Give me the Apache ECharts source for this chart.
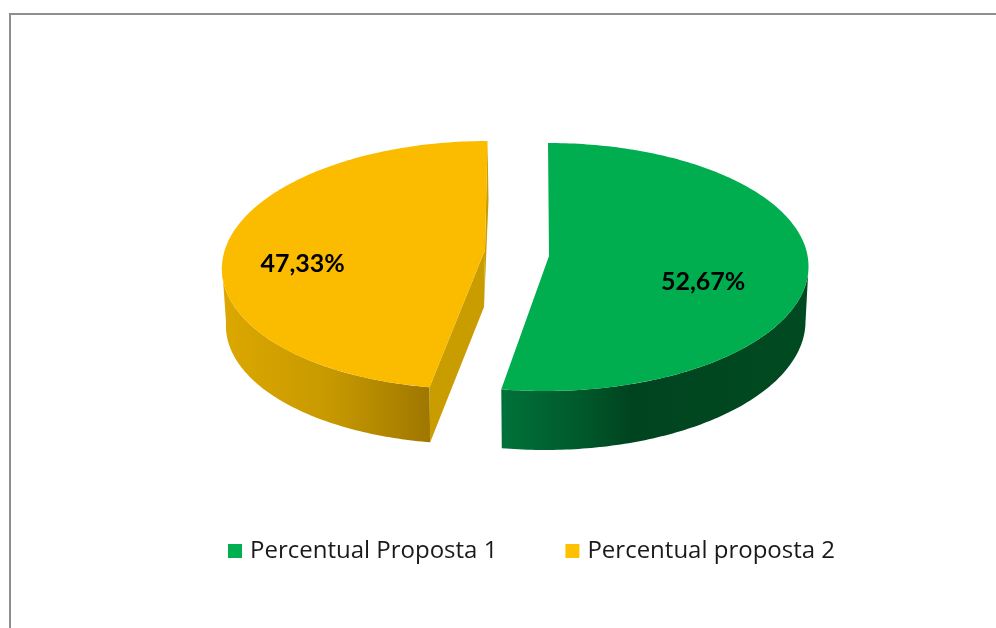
<!DOCTYPE html>
<html>
<head>
<meta charset="utf-8">
<style>html,body{margin:0;padding:0;background:#fff}#chart{width:996px;height:628px}</style>
<script src="https://cdn.jsdelivr.net/npm/echarts@6/dist/echarts.min.js"></script>
</head>
<body>
<div id="chart"></div>
<script>
// Shares of the two proposals, in percent
const categories = ['Percentual Proposta 1', 'Percentual proposta 2'];
const shares = [52.67, 47.33];
const topColors = ['#00AE50', '#FBBC00'];
const legendColors = ['#00B050', '#FFC000'];

// Tilted-disc geometry of each exploded slice
const discs = [
  { cx: 546.5, cy: 267, a: 262, b: 124, skew: 1.5, apexX: 549, apexLift: 11, cy2: 322, a2: 259, b2: 128, labelR: 0.6, labelDy: 9 },
  { cx: 480, cy: 265, a: 258, b: 124, skew: 7.5, apexX: 485, apexLift: 15, cy2: 322, a2: 254, b2: 122, labelR: 0.69, labelDy: 6 }
];
const sideStops = [
  [[0, '#00713A'], [0.25, '#005A2B'], [0.42, '#00441F'], [1, '#004A21']],
  [[0, '#DCA800'], [0.5, '#C89A00'], [1, '#9F7700']]
];
const wallColor = '#C99C00';

const total = shares.reduce((s, v) => s + v, 0);
const startAngles = shares.map((_, i) =>
  shares.slice(0, i).reduce((s, v) => s + v, 0) / total * Math.PI * 2);

function topPoint(d, t) {
  return [d.cx + d.a * Math.sin(t) + d.skew * Math.cos(t), d.cy - d.b * Math.cos(t)];
}
function lowPoint(d, t) {
  return [d.cx + d.a2 * Math.sin(t) + d.skew * Math.cos(t), d.cy2 - d.b2 * Math.cos(t)];
}
function arc(fn, d, t0, t1) {
  const pts = [];
  const n = Math.max(2, Math.ceil(Math.abs(t1 - t0) * 60));
  for (let i = 0; i <= n; i++) pts.push(fn(d, t0 + (t1 - t0) * i / n));
  return pts;
}

function renderSlice(params, api) {
  const i = params.seriesIndex;
  const d = discs[i];
  const t0 = startAngles[i];
  const t1 = t0 + api.value(0) / total * Math.PI * 2;
  const apex = [d.apexX, d.cy - d.apexLift];
  const apexLow = [apex[0] - 1, apex[1] + (d.cy2 - d.cy)];
  const children = [];

  // Outer rim: only the part facing the viewer, between 90 and 270 degrees
  const s0 = Math.max(t0, Math.PI / 2);
  const s1 = Math.min(t1, Math.PI * 1.5);
  if (s1 > s0) {
    children.push({
      type: 'polygon',
      shape: { points: arc(topPoint, d, s0, s1).concat(arc(lowPoint, d, s1, s0)) },
      style: { fill: new echarts.graphic.LinearGradient(0, 0, 1, 0,
        sideStops[i].map(s => ({ offset: s[0], color: s[1] }))) }
    });
  }
  // Cut faces that stay visible on the left-hand slice
  if (t0 > Math.PI) {
    const a = topPoint(d, t0), b = lowPoint(d, t0);
    const c = topPoint(d, t1), e = lowPoint(d, t1);
    children.push({
      type: 'polygon',
      shape: { points: [apex, a, b, apexLow] },
      style: { fill: wallColor }
    });
    children.push({
      type: 'polygon',
      shape: { points: [apex, c, [e[0] + 1, e[1]], apexLow] },
      style: { fill: wallColor }
    });
  }
  // Top face
  children.push({
    type: 'polygon',
    shape: { points: [apex].concat(arc(topPoint, d, t0, t1)) },
    style: { fill: topColors[i] }
  });
  // Value label along the slice's mid angle
  const mid = (t0 + t1) / 2;
  children.push({
    type: 'text',
    style: {
      text: api.value(0).toFixed(2).replace('.', ',') + '%',
      x: d.cx + d.a * d.labelR * Math.sin(mid),
      y: d.cy - d.b * d.labelR * Math.cos(mid) + d.labelDy,
      align: 'center',
      verticalAlign: 'middle',
      fill: '#000',
      font: 'bold 25px Lato, "Open Sans", sans-serif'
    }
  });
  return { type: 'group', children };
}

const chart = echarts.init(document.getElementById('chart'));
chart.setOption({
  animation: false,
  backgroundColor: '#fff',
  legend: {
    data: categories,
    left: 228,
    top: 539,
    icon: 'rect',
    itemWidth: 14,
    itemHeight: 14,
    itemGap: 68,
    selectedMode: false,
    padding: 0,
    textStyle: { fontFamily: '"Open Sans", sans-serif', fontSize: 24, color: '#1a1a1a', padding: [0, 0, 0, 3] }
  },
  graphic: [{
    type: 'polyline',
    shape: { points: [[10, 628], [10, 14], [996, 14]] },
    style: { stroke: '#8E8E8E', lineWidth: 2, fill: null }
  }],
  series: categories.map((name, i) => ({
    type: 'custom',
    name,
    coordinateSystem: 'none',
    renderItem: renderSlice,
    itemStyle: { color: legendColors[i] },
    data: [[shares[i]]],
    silent: true
  }))
});
</script>
</body>
</html>
